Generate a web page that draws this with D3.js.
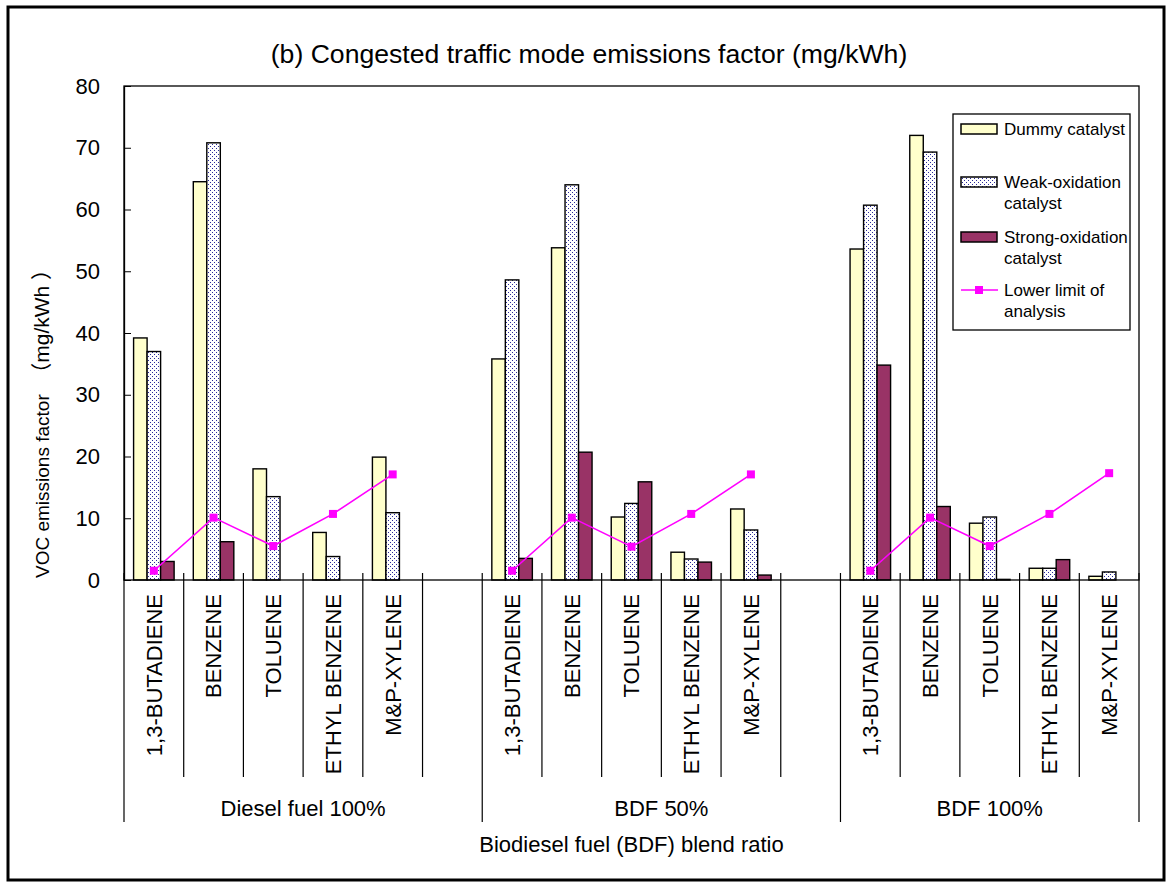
<!DOCTYPE html>
<html>
<head>
  <meta charset="UTF-8">
  <title>Congested traffic mode emissions factor</title>
  <script src="https://d3js.org/d3.v7.min.js"></script>
  <style>
    body { margin: 0; background: #fff; }
    text { font-family: "Liberation Sans", Arial, sans-serif; fill: #000; }
  </style>
</head>
<body>
  <svg width="1169" height="885"></svg>

  <script>
    const groups = ["Diesel fuel 100%", "BDF 50%", "BDF 100%"];
    const compounds = ["1,3-BUTADIENE", "BENZENE", "TOLUENE", "ETHYL BENZENE", "M&P-XYLENE"];
    const seriesNames = ["Dummy catalyst", "Weak-oxidation catalyst", "Strong-oxidation catalyst"];

    // one row per group, one value per compound (mg/kWh)
    const dummy = [
      [39.2, 64.5, 18.0, 7.7, 19.9],
      [35.8, 53.8, 10.2, 4.5, 11.5],
      [53.6, 72.0, 9.2, 1.9, 0.6]
    ];
    const weak = [
      [37.0, 70.8, 13.5, 3.8, 10.9],
      [48.6, 64.0, 12.4, 3.4, 8.1],
      [60.7, 69.3, 10.2, 1.9, 1.3]
    ];
    const strong = [
      [3.0, 6.2, 0, 0, 0],
      [3.5, 20.7, 15.9, 2.9, 0.8],
      [34.8, 11.9, 0.1, 3.3, 0]
    ];
    const lowerLimit = [
      [1.5, 10.1, 5.5, 10.7, 17.1],
      [1.5, 10.1, 5.4, 10.7, 17.1],
      [1.5, 10.1, 5.5, 10.7, 17.3]
    ];
    const yTicks = [0, 10, 20, 30, 40, 50, 60, 70, 80];

    const svg = d3.select("svg");
    const plotL = 124, plotR = 1139, plotT = 86, plotB = 580;

    // slots: 5 compounds + 1 empty after the first two groups
    const slots = [];
    groups.forEach((g, gi) => {
      compounds.forEach((c, ci) => slots.push(gi + "-" + ci));
      if (gi < groups.length - 1) slots.push(gi + "-gap");
    });

    const x = d3.scaleBand().domain(slots).range([plotL, plotR]).padding(0);
    const xs = d3.scaleBand().domain([0, 1, 2]).range([0, x.bandwidth()])
      .paddingInner(0).paddingOuter(0.71);
    const y = d3.scaleLinear().domain([0, 80]).range([plotB, plotT]);

    const defs = svg.append("defs");
    const pat = defs.append("pattern")
      .attr("id", "dots")
      .attr("patternUnits", "userSpaceOnUse")
      .attr("width", 4).attr("height", 4);
    pat.append("rect").attr("width", 4).attr("height", 4).attr("fill", "#fff");
    pat.append("rect").attr("x", 0).attr("y", 0).attr("width", 1).attr("height", 1).attr("fill", "#2a2a99");
    pat.append("rect").attr("x", 2).attr("y", 2).attr("width", 1).attr("height", 1).attr("fill", "#2a2a99");

    const fills = ["#FFFFCC", "url(#dots)", "#993366"];
    const seriesData = [dummy, weak, strong];

    // outer frame
    svg.append("rect")
      .attr("x", 8).attr("y", 7).attr("width", 1156).attr("height", 873)
      .attr("fill", "none").attr("stroke", "#000").attr("stroke-width", 3);

    // title
    svg.append("text")
      .attr("x", 589).attr("y", 63)
      .attr("text-anchor", "middle")
      .attr("font-size", 26.6)
      .text("(b) Congested traffic mode emissions factor (mg/kWh)");

    // bars
    const bars = [];
    seriesData.forEach((s, si) => {
      s.forEach((row, gi) => {
        row.forEach((v, ci) => bars.push({ si, gi, ci, v }));
      });
    });

    svg.append("g")
      .selectAll("rect")
      .data(bars.filter(d => d.v > 0))
      .join("rect")
      .attr("x", d => x(d.gi + "-" + d.ci) + xs(d.si))
      .attr("width", xs.bandwidth())
      .attr("y", d => y(d.v))
      .attr("height", d => y(0) - y(d.v))
      .attr("fill", d => fills[d.si])
      .attr("stroke", "#000")
      .attr("stroke-width", 1.4);

    // plot border
    svg.append("rect")
      .attr("x", plotL).attr("y", plotT)
      .attr("width", plotR - plotL).attr("height", plotB - plotT)
      .attr("fill", "none").attr("stroke", "#000").attr("stroke-width", 1.3);

    // y axis
    const yAxis = svg.append("g")
      .attr("transform", `translate(${plotL},0)`)
      .call(d3.axisLeft(y).tickValues(yTicks).tickSizeInner(-7).tickSizeOuter(0).tickPadding(24));
    yAxis.select(".domain").attr("stroke", "#000").attr("stroke-width", 1.3);
    yAxis.selectAll(".tick line").attr("stroke", "#000");
    yAxis.selectAll(".tick text")
      .attr("font-size", 22)
      .attr("font-family", "'Liberation Sans', Arial, sans-serif");

    const yTitle = svg.append("text")
      .attr("transform", "translate(49,578) rotate(-90)")
      .attr("font-size", 19);
    yTitle.append("tspan").text("VOC emissions factor");
    yTitle.append("tspan").attr("font-size", 21).attr("font-family", "'Noto Sans CJK JP', sans-serif").text("　（");
    yTitle.append("tspan").attr("font-size", 21).text("mg/kWh ");
    yTitle.append("tspan").attr("font-size", 21).attr("font-family", "'Noto Sans CJK JP', sans-serif").text("）");

    // category axis: slot ticks, compound labels, group labels
    const catG = svg.append("g").attr("stroke", "#000").attr("stroke-width", 1.2);
    const edges = slots.map(s => x(s)).concat([plotR]);
    const groupEdges = [plotL, x("1-0"), x("2-0"), plotR];
    edges.forEach(e => {
      const isGroup = groupEdges.some(g => Math.abs(g - e) < 0.5);
      catG.append("line")
        .attr("x1", e).attr("x2", e)
        .attr("y1", plotB - 7)
        .attr("y2", isGroup ? 822 : 777);
    });

    svg.append("g")
      .selectAll("text")
      .data(slots.filter(s => !s.endsWith("gap")))
      .join("text")
      .attr("transform", d => `translate(${x(d) + x.bandwidth() / 2},594) rotate(-90)`)
      .attr("text-anchor", "end")
      .attr("dy", "0.36em")
      .attr("font-size", 22)
      .text(d => compounds[+d.split("-")[1]]);

    svg.append("g")
      .selectAll("text")
      .data(groups)
      .join("text")
      .attr("x", (d, i) => (groupEdges[i] + groupEdges[i + 1]) / 2)
      .attr("y", 816)
      .attr("text-anchor", "middle")
      .attr("font-size", 22)
      .text(d => d);

    svg.append("text")
      .attr("x", (plotL + plotR) / 2).attr("y", 852)
      .attr("text-anchor", "middle")
      .attr("font-size", 22)
      .text("Biodiesel fuel (BDF) blend ratio");

    // lower limit of analysis line, one segment per group
    const line = d3.line()
      .x(d => x(d.gi + "-" + d.ci) + x.bandwidth() / 2)
      .y(d => y(d.v));
    const limitPts = lowerLimit.map((row, gi) => row.map((v, ci) => ({ gi, ci, v })));

    svg.append("g")
      .selectAll("path")
      .data(limitPts)
      .join("path")
      .attr("d", line)
      .attr("fill", "none")
      .attr("stroke", "#FF00FF")
      .attr("stroke-width", 1.6);

    svg.append("g")
      .selectAll("rect")
      .data(limitPts.flat())
      .join("rect")
      .attr("x", d => x(d.gi + "-" + d.ci) + x.bandwidth() / 2 - 4)
      .attr("y", d => y(d.v) - 4)
      .attr("width", 8).attr("height", 8)
      .attr("fill", "#FF00FF");

    // legend
    const lg = svg.append("g");
    lg.append("rect")
      .attr("x", 953).attr("y", 114).attr("width", 177).attr("height", 216)
      .attr("fill", "#fff").attr("stroke", "#000").attr("stroke-width", 1.3);

    const legendItems = [
      { lines: ["Dummy catalyst"], y: 135, kind: 0 },
      { lines: ["Weak-oxidation", "catalyst"], y: 188, kind: 1 },
      { lines: ["Strong-oxidation", "catalyst"], y: 243, kind: 2 },
      { lines: ["Lower limit of", "analysis"], y: 296, kind: 3 }
    ];
    legendItems.forEach(it => {
      if (it.kind < 3) {
        lg.append("rect")
          .attr("x", 961).attr("y", it.y - 11).attr("width", 36).attr("height", 10)
          .attr("fill", fills[it.kind]).attr("stroke", "#000").attr("stroke-width", 1.5);
      } else {
        lg.append("line")
          .attr("x1", 961).attr("x2", 998).attr("y1", it.y - 6).attr("y2", it.y - 6)
          .attr("stroke", "#FF00FF").attr("stroke-width", 1.6);
        lg.append("rect")
          .attr("x", 975).attr("y", it.y - 10).attr("width", 8).attr("height", 8)
          .attr("fill", "#FF00FF");
      }
      it.lines.forEach((t, k) => {
        lg.append("text")
          .attr("x", 1004).attr("y", it.y + k * 21)
          .attr("font-size", 17)
          .text(t);
      });
    });
  </script>
</body>
</html>
